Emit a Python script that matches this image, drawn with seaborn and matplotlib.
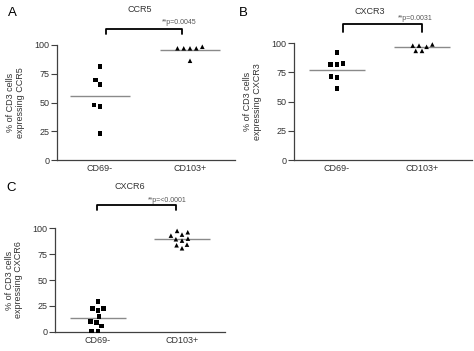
import matplotlib; matplotlib.use("Agg")
import numpy as np
import pandas as pd
import matplotlib.pyplot as plt
import seaborn as sns

sns.set_style("ticks")
plt.rcParams["font.family"] = ["Liberation Sans", "DejaVu Sans"]

W, H = 474, 351
GROUPS = ["CD69-", "CD103+"]

# values (% of CD3 cells)
ccr5_cd69 = [81.5, 69.6, 65.8, 47.8, 46.7, 22.9]
ccr5_cd103 = [97.1, 97.1, 97.1, 97.1, 98.5, 86.3]
cxcr3_cd69 = [92.0, 82.9, 82.0, 82.0, 71.4, 70.6, 61.4]
cxcr3_cd103 = [99.0, 97.0, 98.0, 98.0, 93.5, 93.5]
cxcr6_cd69 = [29.0, 22.6, 22.6, 20.3, 14.5, 9.1, 9.7, 5.5, 0.7, 0.7]
cxcr6_cd103 = [96.2, 97.5, 92.9, 93.9, 89.4, 88.1, 90.0, 84.2, 83.6, 80.7]

markers = ["CCR5", "CXCR3", "CXCR6"]
letters = ["A", "B", "C"]
pvals = ["**p=0.0045", "**p=0.0031", "**p=<0.0001"]

# layout in pixels: axis left, right, y of 100, y of 0, first-category x, spacing, ylabel x
boxes = [(57, 235, 45, 160, 100, 90, 15.5),
         (294, 472, 43.3, 160, 337, 85, 252.5),
         (55, 225, 228.3, 331.7, 98, 84, 14)]
titles_px = [(140, 10), (370, 11), (130, 187)]
letters_px = [(12, 13), (243, 13), (11, 188)]
# bracket: x0, x1, y tick bottom, y top, text x, text y (data units)
brackets = [(0.07, 0.91, 109.6, 114, 0.88, 120),
            (0.07, 1.0, 110, 116.6, 0.92, 121),
            (-0.015, 0.93, 117.8, 122.6, 0.82, 127)]


def panel(fig, box, cd69, cd103, name, br, ptxt):
    xl, xr, y100, y0, c0, sp, lab_x = box
    ax = fig.add_axes([xl / W, 1 - y0 / H, (xr - xl) / W, (y0 - y100) / H])
    df = pd.DataFrame({"group": ["CD69-"] * len(cd69) + ["CD103+"] * len(cd103),
                       "value": cd69 + cd103})
    # the invisible edge widens the swarm spacing like the original layout
    sns.swarmplot(data=df[df.group == "CD69-"], x="group", y="value", order=GROUPS,
                  marker="s", color="black", size=3.3, linewidth=1.0,
                  edgecolor="none", ax=ax)
    sns.swarmplot(data=df[df.group == "CD103+"], x="group", y="value", order=GROUPS,
                  marker="^", color="black", size=3.3, linewidth=1.0,
                  edgecolor="none", ax=ax)
    for c in list(ax.collections):
        if len(c.get_offsets()) == 0:
            c.remove()
        else:
            c.set_clip_on(False)
    means = df.groupby("group")["value"].mean()
    for i, g in enumerate(GROUPS):
        ax.hlines(means[g], i - 0.33, i + 0.33, color="#8a8a8a", lw=1.0, zorder=1)
    ax.set_xlim((xl - c0) / sp, (xr - c0) / sp)
    ax.set_ylim(0, 100)
    ax.set_yticks([0, 25, 50, 75, 100])
    ax.set_xlabel("")
    ax.set_ylabel(f"% of CD3 cells\nexpressing {name}", fontsize=6.5,
                  linespacing=1.05, va="center", color="#333333")
    ax.yaxis.set_label_coords((lab_x - xl) / (xr - xl), 0.5)
    ax.tick_params(axis="y", length=4, width=0.8, pad=1.5, labelsize=6.5,
                   color="#404040", labelcolor="#333333")
    ax.tick_params(axis="x", length=0, pad=3, labelsize=6.5, labelcolor="#333333")
    sns.despine(ax=ax)
    for s in ["left", "bottom"]:
        ax.spines[s].set_color("#404040")
        ax.spines[s].set_linewidth(0.9)
    x0, x1, yb, yt, tx, ty = br
    ax.plot([x0, x0, x1, x1], [yb, yt, yt, yb], color="black", lw=1.3, clip_on=False)
    ax.text(tx, ty, ptxt, ha="center", va="center", fontsize=5, color="#555555",
            clip_on=False)
    return ax


fig = plt.figure(figsize=(W / 100, H / 100), dpi=100)
data = [(ccr5_cd69, ccr5_cd103), (cxcr3_cd69, cxcr3_cd103), (cxcr6_cd69, cxcr6_cd103)]
for i in range(3):
    panel(fig, boxes[i], data[i][0], data[i][1], markers[i], brackets[i], pvals[i])
    tx, ty = titles_px[i]
    fig.text(tx / W, 1 - ty / H, markers[i], ha="center", va="center",
             fontsize=6.5, color="#333333")
    lx, ly = letters_px[i]
    fig.text(lx / W, 1 - ly / H, letters[i], ha="center", va="center",
             fontsize=9.5, color="black")

fig.savefig("out.png", dpi=100)
